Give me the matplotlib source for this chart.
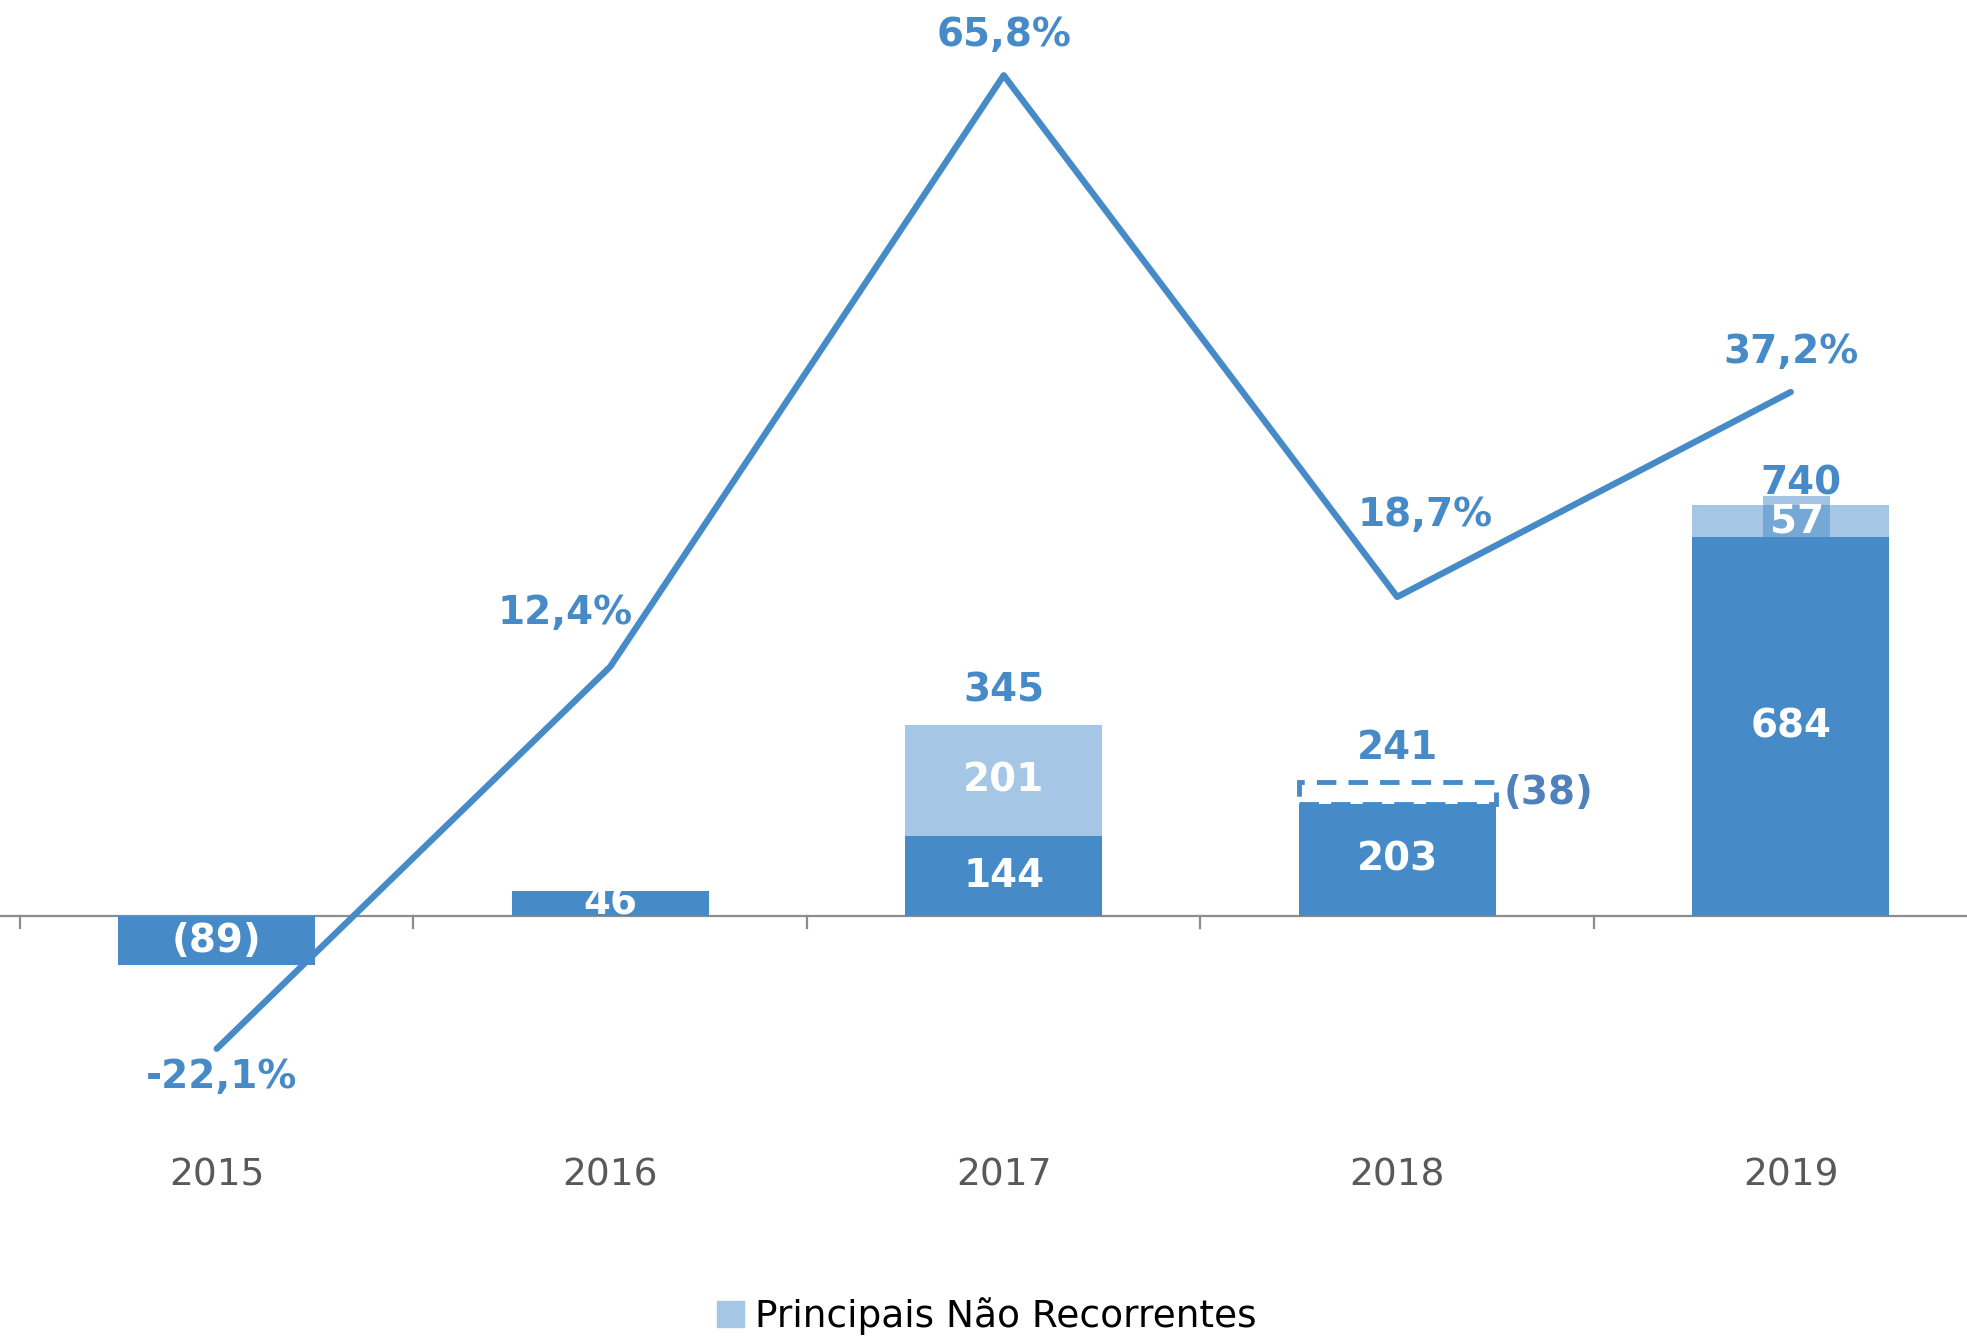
import matplotlib
matplotlib.use("Agg")
import matplotlib.pyplot as plt
from matplotlib.patches import Rectangle
from matplotlib.transforms import blended_transform_factory

# ---- data ----
years = ["2015", "2016", "2017", "2018", "2019"]
recurring = [-89, 46, 144, 203, 684]          # dark bars
non_recurring = [0, 0, 201, -38, 57]           # light bars / adjustments
totals = [None, None, 345, 241, 740]           # total labels
growth = [-22.1, 12.4, 65.8, 18.7, 37.2]        # line (%)
legend_label = "Principais Não Recorrentes"

DARK = "#468BC7"
LIGHT = "#A5C6E4"
LINE = "#468BC7"
ADJ = "#4F81BD"
GRAY = "#595959"

plt.rcParams['font.family'] = ['DejaVu Sans']

W, H = 1967, 1336
PX_PER_UNIT = 0.554
fig = plt.figure(figsize=(W / 100, H / 100), dpi=100)
ax = fig.add_axes([0, 0, 1, 1])
ax.set_xlim(-0.5508, 4.448)
ax.set_ylim(-758.1, 1653.4)
ax.axis("off")

x = list(range(len(years)))
bw = 0.5

# dark bars
ax.bar(x, recurring, width=bw, color=DARK, zorder=2)

# light bars (positive non-recurring) stacked
for i, (r, n) in enumerate(zip(recurring, non_recurring)):
    if n > 0:
        ax.bar(i, n, bottom=r, width=bw, color=LIGHT, zorder=2)
    elif n < 0:
        rect = Rectangle((i - bw / 2, r), bw, -n, facecolor="none",
                         edgecolor=DARK, linestyle=(0, (4, 2.5)),
                         linewidth=3.5, zorder=3)
        ax.add_patch(rect)

# axis line and ticks
ax.axhline(0, color="#8C8C8C", linewidth=1.6, zorder=1)
for b in [i - 0.5 for i in range(len(years) + 1)]:
    ax.plot([b, b], [0, -22], color="#8C8C8C", linewidth=1.6, zorder=1)

# category labels
tr = blended_transform_factory(ax.transData, ax.transAxes)
for i, y in enumerate(years):
    ax.text(i, 1 - 1175 / H, y, transform=tr, ha="center", va="center",
            fontsize=27, color=GRAY)

# bar labels
FS = 28
lblkw = dict(ha="center", va="center", fontsize=FS, fontweight="bold", zorder=5)
for i, (r, n) in enumerate(zip(recurring, non_recurring)):
    txt = f"({abs(r)})" if r < 0 else f"{r}"
    ax.text(i, r / 2, txt, color="white", **lblkw)
    if n > 0:
        ax.text(i + (0.015 if i == 4 else 0), r + n / 2, f"{n}", color="white",
                bbox=dict(boxstyle="square,pad=0.17", facecolor=DARK,
                          alpha=0.5, edgecolor="none") if i == 4 else None,
                **lblkw)
    elif n < 0:
        ax.text(i + bw / 2 + 0.02, r - n / 2, f"({abs(n)})", color=ADJ,
                ha="left", va="center", fontsize=FS, fontweight="bold", zorder=5)
    if totals[i] is not None:
        gap_px = 23 if i == 4 else 34
        ax.text(i + (0.025 if i == 4 else 0), totals[i] + gap_px / PX_PER_UNIT,
                f"{totals[i]}", color=DARK, ha="center", va="center",
                fontsize=FS, fontweight="bold", zorder=6)

# line on secondary scale
ax2 = fig.add_axes([0, 0, 1, 1], sharex=ax)
ax2.set_ylim(-48.04, 72.60)
ax2.axis("off")
ax2.patch.set_alpha(0)
ax2.plot(x, growth, color=LINE, linewidth=4.6, solid_capstyle="round",
         solid_joinstyle="round", zorder=4)

offsets = [(0.012, -28), (-0.115, 54), (0, 40), (0.07, 82), (0, 40)]
for i, g in enumerate(growth):
    dx, dpx = offsets[i]
    ax2.annotate(f"{g:.1f}%".replace(".", ","), (i + dx, g),
                 xytext=(0, dpx * 0.72), textcoords="offset points",
                 ha="center", va="center", fontsize=FS, fontweight="bold",
                 color=LINE)

# legend
leg = fig.legend(handles=[Rectangle((0, 0), 1, 1, color=LIGHT)],
                 labels=[legend_label], loc="center",
                 bbox_to_anchor=(987 / W, 1 - 1316 / H), frameon=False,
                 fontsize=27, handlelength=0.7, handleheight=0.7,
                 handletextpad=0.3)

fig.savefig("out.png", dpi=100)
